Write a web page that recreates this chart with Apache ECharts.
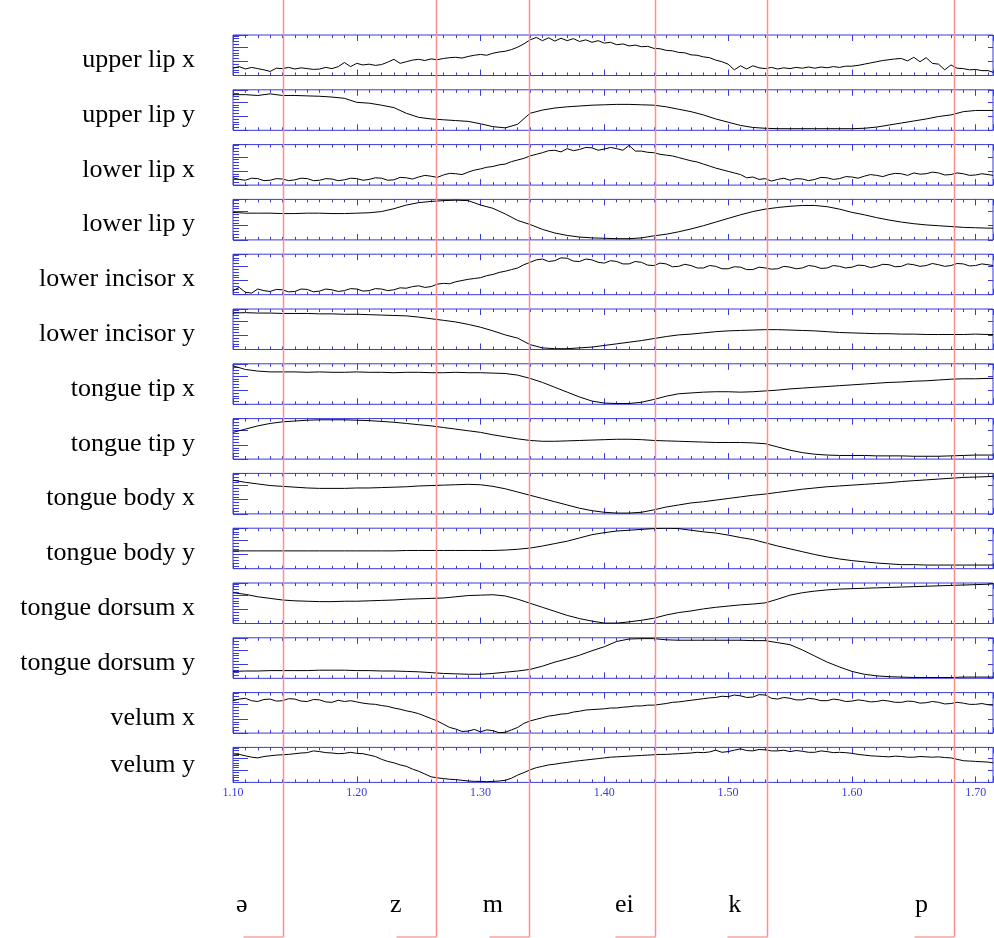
<!DOCTYPE html>
<html><head><meta charset="utf-8">
<script src="https://cdn.jsdelivr.net/npm/echarts@6/dist/echarts.min.js"></script>
<style>html,body{margin:0;padding:0;background:#fff}#c{width:994px;height:938px}</style>
</head><body><div id="c"></div>
<script>
// time samples (s): coarse for smooth channels, fine for the noisy ones
const times = [1.10,1.11,1.12,1.13,1.14,1.15,1.16,1.17,1.18,1.19,
  1.20,1.21,1.22,1.23,1.24,1.25,1.26,1.27,1.28,1.29,
  1.30,1.31,1.32,1.33,1.34,1.35,1.36,1.37,1.38,1.39,
  1.40,1.41,1.42,1.43,1.44,1.45,1.46,1.47,1.48,1.49,
  1.50,1.51,1.52,1.53,1.54,1.55,1.56,1.57,1.58,1.59,
  1.60,1.61,1.62,1.63,1.64,1.65,1.66,1.67,1.68,1.69,
  1.70,1.71,1.714];
const timesFine = [1.100,1.105,1.110,1.115,1.120,1.125,1.130,1.135,1.140,1.145,1.150,1.155,1.160,1.165,1.170,1.175,1.180,1.185,1.190,1.195,
  1.200,1.205,1.210,1.215,1.220,1.225,1.230,1.235,1.240,1.245,1.250,1.255,1.260,1.265,1.270,1.275,1.280,1.285,1.290,1.295,
  1.300,1.305,1.310,1.315,1.320,1.325,1.330,1.335,1.340,1.345,1.350,1.355,1.360,1.365,1.370,1.375,1.380,1.385,1.390,1.395,
  1.400,1.405,1.410,1.415,1.420,1.425,1.430,1.435,1.440,1.445,1.450,1.455,1.460,1.465,1.470,1.475,1.480,1.485,1.490,1.495,
  1.500,1.505,1.510,1.515,1.520,1.525,1.530,1.535,1.540,1.545,1.550,1.555,1.560,1.565,1.570,1.575,1.580,1.585,1.590,1.595,
  1.600,1.605,1.610,1.615,1.620,1.625,1.630,1.635,1.640,1.645,1.650,1.655,1.660,1.665,1.670,1.675,1.680,1.685,1.690,1.695,
  1.700,1.705,1.710,1.714];
const xTickLabels = ['1.10','1.20','1.30','1.40','1.50','1.60','1.70'];
const channelNames = ['upper lip x','upper lip y','lower lip x','lower lip y','lower incisor x','lower incisor y',
  'tongue tip x','tongue tip y','tongue body x','tongue body y','tongue dorsum x','tongue dorsum y','velum x','velum y'];
// positions, % of each channel's range
const upperLipX = [18,22,16,20,17,14,10,18,17,20,16,19,17,15,16,20,17,22,32,22,
  30,26,28,25,27,33,40,30,34,38,40,37,41,39,42,44,45,43,47,50,
  52,50,55,58,60,64,70,78,88,94,86,93,85,92,86,91,84,88,82,86,
  80,82,76,78,73,75,71,72,67,66,62,61,57,56,51,50,46,44,38,34,
  28,14,24,16,24,19,17,20,16,19,17,20,18,21,18,21,19,22,20,23,
  23,25,28,31,34,37,39,41,42,36,45,34,44,30,28,14,26,18,17,14,
  15,12,12,8];
const upperLipY = [88,88,86,90,86,86,85,84,82,79, 69,67,62,56,42,32,28,26,24,22, 16,9,6,15,42,50,55,58,60,62,
  63,64,64,63,62,58,52,46,38,28, 20,12,7,5,4,4,4,4,4,4, 4,5,8,13,18,23,28,34,38,46, 49,49,49];
const lowerLipX = [18,14,12,17,16,11,12,16,15,11,13,17,16,11,12,16,15,11,13,17,
  16,12,14,18,17,12,13,19,18,15,20,24,22,19,25,29,28,26,32,37,
  40,44,46,50,52,58,62,66,72,76,80,85,86,82,90,85,88,93,92,86,
  89,93,90,86,98,84,84,81,80,76,74,72,68,64,60,57,52,47,42,38,
  34,30,26,18,20,14,16,10,14,17,12,16,15,11,14,19,18,14,16,21,
  20,17,22,26,24,21,26,29,28,24,30,27,28,32,30,25,26,30,28,24,
  25,28,26,24];
const lowerLipY = [68,66,66,66,65,65,66,66,65,65, 66,67,70,77,86,92,95,97,98,97, 86,78,64,48,38,26,17,11,7,5,
  4,3,3,5,10,14,20,27,35,44, 53,62,70,76,80,83,85,85,82,76, 68,62,55,49,44,40,37,35,33,31, 30,29,29];
const lowerIncisorX = [10,18,6,4,14,10,8,13,12,7,8,14,13,7,9,14,12,8,10,15,
  14,9,10,15,14,10,12,17,16,20,22,18,20,26,28,27,32,35,38,40,
  42,47,50,55,58,62,66,74,80,86,88,82,84,91,90,83,82,88,86,80,
  78,84,82,76,76,82,80,73,72,78,76,69,70,75,72,66,66,72,70,64,
  64,69,68,62,62,68,66,63,64,70,68,64,66,72,70,65,66,72,70,66,
  68,73,72,67,70,75,74,69,70,76,74,70,72,77,74,70,72,77,76,71,
  72,76,74,72];
const lowerIncisorY = [90,91,90,90,89,89,89,88,88,87, 87,86,85,84,83,80,76,72,68,62, 55,46,36,28,12,4,2,2,4,6,
  10,14,18,22,27,32,36,38,41,44, 46,47,48,49,49,48,47,46,44,42, 41,40,39,39,38,38,37,37,37,37, 38,37,37];
const tongueTipX = [95,86,82,80,80,80,79,80,79,79, 80,79,79,78,79,79,78,78,79,78, 78,77,76,72,64,54,42,30,18,8,
  3,2,2,5,12,20,26,28,30,31, 31,30,31,33,35,38,40,42,44,46, 48,50,52,54,55,57,58,60,62,63, 63,64,64];
const tongueTipY = [66,74,82,88,92,94,96,97,97,97, 96,95,93,91,88,85,82,78,74,70, 66,60,55,50,46,44,44,45,46,47,
  48,49,49,48,46,45,44,43,42,41, 41,41,40,38,30,22,16,12,10,9, 9,9,8,8,8,7,7,7,8,9, 10,10,10];
const tongueBodyX = [83,78,74,70,68,66,64,63,63,63, 64,64,65,66,67,69,70,71,72,73, 72,68,62,54,46,38,30,22,14,8,
  4,2,2,4,10,17,22,27,30,34, 38,42,46,49,53,57,61,64,67,69, 71,73,75,77,80,82,84,86,88,90, 91,92,93];
const tongueBodyY = [44,44,44,44,44,44,44,44,44,44, 44,44,44,44,45,45,45,45,45,45, 45,45,46,48,51,56,62,68,76,84,
  89,93,95,97,99,100,99,95,91,88, 83,77,72,64,56,49,42,35,29,24, 20,17,14,12,10,10,9,9,9,9, 9,9,9];
const tongueDorsumX = [76,72,66,62,58,56,55,54,54,55, 55,56,57,58,60,61,62,63,66,69, 70,71,68,60,50,40,30,20,12,6,
  1,1,4,8,13,21,27,31,36,40, 43,46,48,51,60,70,76,80,83,85, 86,87,88,89,90,91,92,93,94,95, 96,97,98];
const tongueDorsumY = [17,18,18,19,19,19,19,20,20,20, 19,19,18,18,17,16,14,12,11,10, 10,12,15,18,22,30,40,48,57,68,
  78,91,97,98,98,95,94,94,94,94, 94,94,93,93,88,83,70,55,40,28, 17,10,6,4,3,2,2,2,2,3, 3,3,3];
const velumX = [80,84,86,80,78,83,84,79,80,85,84,79,78,83,82,77,76,81,78,80,
  77,74,72,71,68,66,62,59,55,52,48,42,36,30,22,14,10,4,5,9,
  3,8,6,1,2,8,14,24,30,34,38,42,44,47,48,52,54,57,58,59,
  60,62,62,64,65,67,67,69,69,71,73,76,77,79,81,83,85,87,88,91,
  90,94,92,88,89,95,94,86,84,88,86,82,82,86,84,80,80,84,82,78,
  79,82,80,77,78,81,79,76,76,79,78,74,75,78,76,72,73,76,74,71,
  71,73,70,69];
const velumY = [78,80,76,72,70,74,76,78,79,80,82,84,85,90,88,85,84,82,83,86,
  83,82,78,74,66,60,56,50,46,38,32,24,16,13,11,9,8,6,4,3,
  3,2,3,4,6,12,21,28,36,42,46,50,52,55,57,60,62,64,66,68,
  70,72,73,74,75,76,77,78,79,80,80,81,82,83,84,86,85,87,92,86,
  88,92,96,91,90,94,93,90,90,92,88,91,89,86,86,90,88,85,86,85,
  83,80,78,76,75,74,73,75,74,72,72,74,73,72,73,71,70,66,62,61,
  60,59,58,56];
const channelData = [upperLipX,upperLipY,lowerLipX,lowerLipY,lowerIncisorX,lowerIncisorY,
  tongueTipX,tongueTipY,tongueBodyX,tongueBodyY,tongueDorsumX,tongueDorsumY,velumX,velumY];
// segment boundaries (s), labels and label anchor times (s)
const boundaries = [1.1404,1.2640,1.3391,1.4409,1.5318,1.6824];
const segments = ['ə','z','m','ei','k','p'];
const segmentLabelTimes = [1.1024,1.2268,1.3017,1.4086,1.5001,1.6509];

const xMin = 1.10, xMax = 1.714;
const BLUE = '#3a3ad8';
const SERIF = '"Liberation Serif","Times New Roman",serif';

const chart = echarts.init(document.getElementById('c'), null, {renderer:'canvas'});
const grids=[], xAxes=[], yAxes=[], series=[];
channelNames.forEach((name,i)=>{
  const last = i === channelNames.length-1;
  const vals = channelData[i];
  const ts = vals.length === timesFine.length ? timesFine : times;
  grids.push({left:233, width:760, top:35+i*54.8, height:last?35:40.5, show:true,
    borderColor:BLUE, borderWidth:1, backgroundColor:'transparent', containLabel:false, outerBoundsMode:'none'});
  const baseX = {gridIndex:i, type:'value', min:xMin, max:xMax, splitLine:{show:false},
    axisLine:{show:false,onZero:false}, axisLabel:{show:false}};
  const tick = (len)=>({show:true, inside:true, length:len, lineStyle:{color:BLUE,width:1}});
  xAxes.push(Object.assign({}, baseX, {position:'bottom', interval:0.1, axisTick:tick(6),
    axisLabel: last ? {show:true, color:BLUE, fontFamily:SERIF, fontSize:12, margin:4,
      formatter:(v)=>{const s=v.toFixed(2); return xTickLabels.includes(s)?s:'';}} : {show:false}}));
  xAxes.push(Object.assign({}, baseX, {position:'bottom', interval:0.01, axisTick:tick(3)}));
  xAxes.push(Object.assign({}, baseX, {position:'top', interval:0.1, axisTick:tick(6)}));
  xAxes.push(Object.assign({}, baseX, {position:'top', interval:0.01, axisTick:tick(3)}));
  const baseY = {gridIndex:i, type:'value', min:0, max:100, splitLine:{show:false},
    axisLine:{show:false,onZero:false}, axisLabel:{show:false}};
  yAxes.push(Object.assign({}, baseY, {position:'left', interval:35, axisTick:tick(15)}));
  yAxes.push(Object.assign({}, baseY, {position:'left', interval:7, axisTick:tick(6)}));
  yAxes.push(Object.assign({}, baseY, {position:'right', interval:35, axisTick:tick(5)}));
  series.push({type:'line', name:name, xAxisIndex:i*4, yAxisIndex:i*3,
    data: ts.map((t,k)=>[t, vals[k]]),
    showSymbol:false, symbol:'none', lineStyle:{color:'#000', width:1}, silent:true, animation:false, z:3});
});
chart.setOption({animation:false, grid:grids, xAxis:xAxes, yAxis:yAxes, series:series});

// overlay: channel labels, segment boundaries and labels
const g = [];
channelNames.forEach((name,i)=>{
  const x0 = chart.convertToPixel({xAxisIndex:i*4}, xMin);
  const yc = chart.convertToPixel({yAxisIndex:i*3}, i === channelNames.length-1 ? 50 : 38);
  g.push({type:'text', x:x0-38, y:yc, z:10,
    style:{text:name, font:'26px '+SERIF, fill:'#000', textAlign:'right', textVerticalAlign:'middle', verticalAlign:'middle'}});
});
const H = 937;
boundaries.forEach((b,j)=>{
  const x = Math.round(chart.convertToPixel({xAxisIndex:0}, b)) + 0.5;
  const lx = chart.convertToPixel({xAxisIndex:0}, segmentLabelTimes[j]);
  g.push({type:'line', z:20, shape:{x1:x, y1:0, x2:x, y2:H}, style:{stroke:'#ff8f8f', lineWidth:1.5}});
  g.push({type:'line', z:20, shape:{x1:x-40, y1:H, x2:x, y2:H}, style:{stroke:'#f4a4a4', lineWidth:1.5}});
  g.push({type:'text', z:20, x:lx, y:905,
    style:{text:segments[j], font:'26px '+SERIF, fill:'#000', textAlign:'left', textVerticalAlign:'middle', verticalAlign:'middle'}});
});
chart.setOption({graphic:g});
</script></body></html>
